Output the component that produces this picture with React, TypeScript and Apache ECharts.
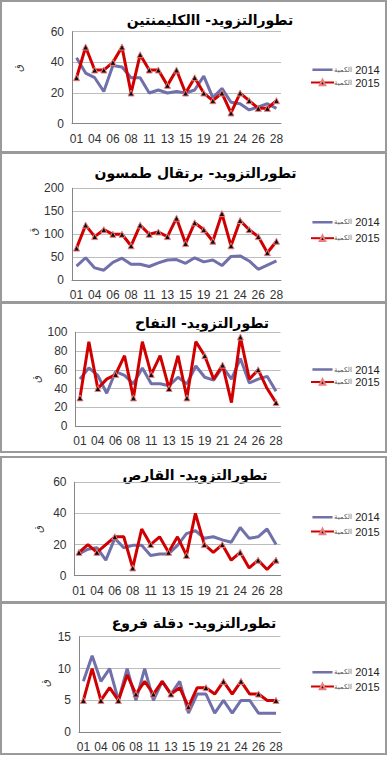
import React, { useEffect, useRef } from "react";
import * as echarts from "echarts";

const days = ["01","02","04","05","06","07","08","09","11","12","13","14","15","18","19","20","21","22","24","25","26","27","28"];
const seriesNames = ["الكمية 2014", "الكمية 2015"];
const titles = [
  "تطورالتزويد- االكليمنتين",
  "تطورالتزويد- برتقال طمسون",
  "تطورالتزويد- التفاح",
  "تطورالتزويد- القارص",
  "تطورالتزويد- دقلة فروع",
];
const unitLabel = "ق";

const clem2014 = [43,33,30,21,38,37,30,30,20,22,20,21,20,22,31,17,23,14,13,9,11,13,10];
const clem2015 = [30,50,35,35,40,50,20,45,35,35,25,35,20,30,20,15,20,7,20,15,10,10,15];
const orange2014 = [31,49,27,22,39,48,35,35,30,38,44,45,37,49,40,44,32,52,53,42,24,33,42];
const orange2015 = [70,120,95,110,100,100,75,120,100,105,95,135,80,125,110,85,145,75,130,110,95,60,85];
const apple2014 = [50,62,54,35,58,54,45,62,45,45,43,52,45,64,52,49,63,50,72,46,50,53,37];
const apple2015 = [30,90,40,50,55,75,30,90,55,75,40,75,30,90,75,50,65,25,95,50,60,40,25];
const qares2014 = [14,17,18,10,24,18,19.5,19.5,13,14,14,19.5,27,29,24,25,23,21.5,31,24,25,30,20];
const qares2015 = [15,20,15,20,25,25,5,30,20,25,15,25,13,40,20,15,20,10,15,5,10,4,10];
const deglet2014 = [8,12,8,10,5,10,5,10,5,8,6,8,3,6,6,3,5,3,5,5,3,3,3];
const deglet2015 = [5,10,5,7,5,9,6,8,6,8,6,7,4,7,7,6,8,6,8,6,6,5,5];

const yMax = [60, 200, 100, 60, 15];
const yStep = [20, 50, 20, 20, 5];

const values2014 = [clem2014, orange2014, apple2014, qares2014, deglet2014];
const values2015 = [clem2015, orange2015, apple2015, qares2015, deglet2015];

// layout (pixels)
const layout = [
  { box: [1, 1, 385, 151], title: [210, 20], grid: [72, 31.7, 281, 123.7], legend: [69.3, 81], unit: [18, 68] },
  { box: [1, 153, 385, 149], title: [195.5, 173.3], grid: [72, 188.3, 281, 280.3], legend: [221.7, 236.7], unit: [33, 231.7] },
  { box: [1, 303, 385, 149], title: [202, 323], grid: [75.5, 332.3, 280.5, 426], legend: [369, 380.5], unit: [36.7, 379] },
  { box: [1, 457, 385, 145], title: [195, 475], grid: [74.5, 482.3, 280.5, 575.7], legend: [516.7, 530], unit: [38, 529] },
  { box: [1, 603, 385, 151], title: [194, 622.7], grid: [79, 636.7, 280.4, 732.3], legend: [671.7, 685], unit: [45, 683] },
];

const FONT = "'Liberation Sans', Arial, sans-serif";
const AR_FONT = "'DejaVu Sans', sans-serif";
const LINE_ICON = "path://M0,0L0.01,0M0,2.5L23,2.5L23,5.5L0,5.5ZM0,8L0.01,8";

export default function App() {
  const ref = useRef<HTMLDivElement>(null);
  useEffect(() => {
    if (!ref.current) return;
    const chart = echarts.init(ref.current, undefined, { renderer: "svg" });
    const grids: any[] = [];
    const xAxes: any[] = [];
    const yAxes: any[] = [];
    const series: any[] = [];
    const legends: any[] = [];
    const graphics: any[] = [];
    layout.forEach((l, i) => {
      const [gl, gt, gr, gb] = l.grid;
      grids.push({ left: gl, top: gt, width: gr - gl, height: gb - gt, containLabel: false });
      xAxes.push({
        type: "category",
        gridIndex: i,
        data: days,
        boundaryGap: true,
        axisLine: { show: true, lineStyle: { color: "#868686", width: 1 } },
        axisTick: { show: false },
        axisLabel: { interval: 1, color: "#333", fontSize: 12, fontFamily: FONT, margin: 9 },
      });
      yAxes.push({
        type: "value",
        gridIndex: i,
        min: 0,
        max: yMax[i],
        interval: yStep[i],
        axisLine: { show: true, lineStyle: { color: "#868686", width: 1 } },
        axisTick: { show: false },
        splitLine: { show: true, lineStyle: { color: "#bdbdbd", width: 1 } },
        axisLabel: { color: "#333", fontSize: 12, fontFamily: FONT, margin: 8 },
      });
      series.push({
        name: seriesNames[0],
        type: "line",
        xAxisIndex: i,
        yAxisIndex: i,
        data: values2014[i],
        showSymbol: false,
        symbol: "none",
        lineStyle: { color: "#7070aa", width: 3 },
        itemStyle: { color: "#7070aa" },
      });
      series.push({
        name: seriesNames[1],
        type: "line",
        xAxisIndex: i,
        yAxisIndex: i,
        data: values2015[i],
        symbol: "triangle",
        symbolSize: 6,
        lineStyle: { color: "#d00000", width: 3 },
        itemStyle: { color: "#111", borderColor: "#f07c7c", borderWidth: 1 },
      });
      const gap = Math.max(0, l.legend[1] - l.legend[0] - 11);
      legends.push({
        orient: "vertical",
        left: 310,
        top: l.legend[0] - 5.5,
        itemWidth: 23,
        itemHeight: 7,
        itemGap: gap,
        padding: 0,
        data: [
          { name: seriesNames[0], icon: LINE_ICON, itemStyle: { color: "#7070aa", borderWidth: 0 } },
          { name: seriesNames[1] },
        ],
        formatter: (name: string) => {
          const parts = name.split(" ");
          return `{a|${parts[0]}} {b|${parts[1]}}`;
        },
        textStyle: {
          padding: [0, 0, 0, -5],
          rich: {
            a: { fontSize: 7, fontFamily: AR_FONT, color: "#555", lineHeight: 11 },
            b: { fontSize: 11, fontFamily: FONT, color: "#222", lineHeight: 11 },
          },
        },
      });
      const [bx, by, bw, bh] = l.box;
      graphics.push({
        type: "rect",
        shape: { x: bx, y: by, width: bw, height: bh },
        style: { fill: "none", stroke: "#9a9a9a", lineWidth: 2 },
        silent: true,
      });
      graphics.push({
        type: "text",
        x: l.title[0],
        y: l.title[1],
        style: {
          text: titles[i],
          font: `bold 14px ${AR_FONT}`,
          fill: "#000",
          textAlign: "center",
          textVerticalAlign: "middle",
        },
      });
      graphics.push({
        type: "text",
        x: l.unit[0],
        y: l.unit[1],
        rotation: Math.PI / 2,
        style: {
          text: unitLabel,
          font: `10px ${AR_FONT}`,
          fill: "#333",
          textAlign: "center",
          textVerticalAlign: "middle",
        },
      });
    });
    chart.setOption({
      animation: false,
      backgroundColor: "#fff",
      grid: grids,
      xAxis: xAxes,
      yAxis: yAxes,
      legend: legends,
      series,
      graphic: graphics,
    });
    return () => chart.dispose();
  }, []);
  return (
    <div
      ref={ref}
      style={{ position: "fixed", left: 0, top: 0, width: 388, height: 757, background: "#fff" }}
    />
  );
}
